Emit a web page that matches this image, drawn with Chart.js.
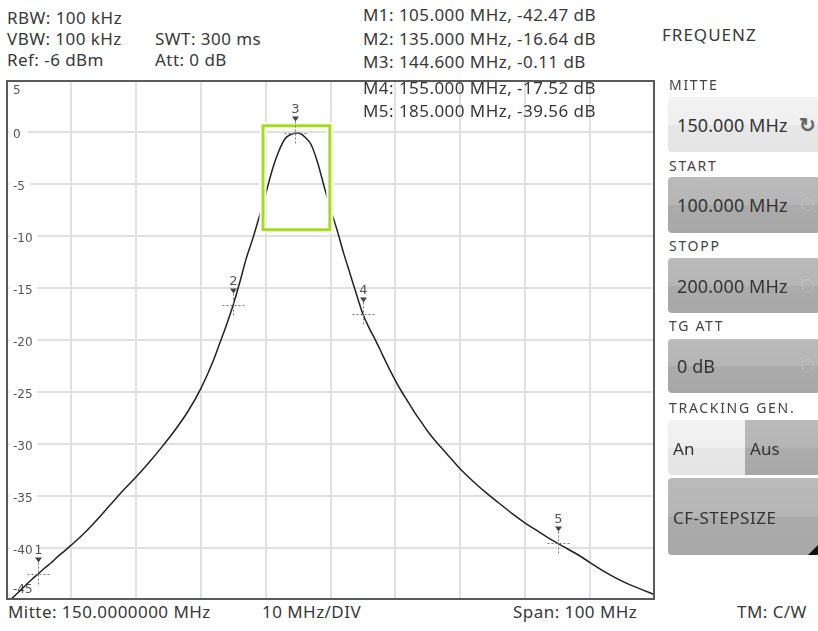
<!DOCTYPE html>
<html><head><meta charset="utf-8">
<script src="https://cdn.jsdelivr.net/npm/chart.js@4.4.1/dist/chart.umd.min.js"></script>
<style>
html,body{margin:0;padding:0;background:#fff;}
body{width:818px;height:631px;position:relative;overflow:hidden;font-family:"Noto Sans",sans-serif;color:#383838;}
.t{position:absolute;white-space:nowrap;font-size:17px;line-height:20px;letter-spacing:0.45px;}
.lbl{position:absolute;left:669px;white-space:nowrap;font-size:14px;line-height:16px;letter-spacing:1.7px;color:#444;}
.btn{position:absolute;left:668px;width:152px;border-radius:4px;overflow:hidden;}
.light{background:linear-gradient(#f2f2f2 0%,#efefef 50%,#e7e7e7 51%,#e5e5e5 100%);}
.dark{background:linear-gradient(#bababa 0%,#b5b5b5 50%,#ababab 51%,#a8a8a8 100%);}
.btxt{position:absolute;left:9px;top:50%;transform:translateY(-50%);white-space:nowrap;font-size:18px;letter-spacing:0.1px;color:#333;}
.ico{position:absolute;left:133px;top:50%;margin-top:-7px;width:11px;height:11px;border:1.5px dotted #cfcfcf;border-radius:50%;}
#chartWrap{position:absolute;left:6px;top:80px;width:649px;height:520px;}
</style>
</head><body>
<div class="t" style="left:7px;top:8px;">RBW: 100 kHz</div>
<div class="t" style="left:7px;top:29px;">VBW: 100 kHz</div>
<div class="t" style="left:7px;top:50px;">Ref: -6 dBm</div>
<div class="t" style="left:155px;top:29px;">SWT: 300 ms</div>
<div class="t" style="left:155px;top:50px;">Att: 0 dB</div>
<div class="t" style="left:363px;top:5px;">M1: 105.000 MHz, -42.47 dB</div>
<div class="t" style="left:363px;top:29px;">M2: 135.000 MHz, -16.64 dB</div>
<div class="t" style="left:363px;top:52px;">M3: 144.600 MHz, -0.11 dB</div>

<div id="chartWrap"><canvas id="c"></canvas></div>

<div class="t" style="left:363px;top:78px;">M4: 155.000 MHz, -17.52 dB</div>
<div class="t" style="left:363px;top:101px;">M5: 185.000 MHz, -39.56 dB</div>

<div class="t" style="left:662px;top:25px;letter-spacing:1px;">FREQUENZ</div>
<div class="lbl" style="top:77px;">MITTE</div>
<div class="btn light" style="top:97px;height:55px;"><div class="btxt">150.000 MHz</div><div style="position:absolute;left:131px;top:50%;transform:translateY(-52%);font-size:20px;font-weight:bold;color:#666;">&#8635;</div></div>
<div class="lbl" style="top:158px;">START</div>
<div class="btn dark" style="top:177px;height:56px;"><div class="btxt">100.000 MHz</div><div class="ico"></div></div>
<div class="lbl" style="top:238px;">STOPP</div>
<div class="btn dark" style="top:258px;height:55px;"><div class="btxt">200.000 MHz</div><div class="ico"></div></div>
<div class="lbl" style="top:318px;">TG ATT</div>
<div class="btn dark" style="top:339px;height:54px;"><div class="btxt">0 dB</div><div class="ico"></div></div>
<div class="lbl" style="top:400px;">TRACKING GEN.</div>
<div class="btn" style="top:420px;height:55px;">
  <div class="light" style="position:absolute;left:0;top:0;width:77px;height:100%;"><div class="btxt" style="left:5px;font-size:17px;">An</div></div>
  <div class="dark" style="position:absolute;left:77px;top:0;width:80px;height:100%;"><div class="btxt" style="left:5px;font-size:17px;">Aus</div></div>
</div>
<div class="btn dark" style="top:478px;height:77px;"><div class="btxt" style="left:5px;font-size:17px;letter-spacing:0.5px;">CF-STEPSIZE</div>
  <div style="position:absolute;left:140px;bottom:0;width:0;height:0;border-left:10px solid transparent;border-bottom:10px solid #111;"></div></div>

<div class="t" style="left:8px;top:602px;">Mitte: 150.0000000 MHz</div>
<div class="t" style="left:262px;top:602px;">10 MHz/DIV</div>
<div class="t" style="left:513px;top:602px;">Span: 100 MHz</div>
<div class="t" style="left:737px;top:602px;">TM: C/W</div>

<script>
// ---- data ----
const freqMHz = [100,101,102,103,104,105,106,107,108,109,110,112,114,116,118,120,122,124,126,128,130,132,133,134,135,136,137,138,139,140,141,142,143,144,144.6,145,145.5,146,147,148,149,150,151,152,153,154,155,156,157,158,159,160,161,162,163,164,165,166,167,168,169,170,172,174,176,178,180,182,184,185,186,188,190,192,194,196,198,200];
const levelDb = [-45.3,-44.8,-44.2,-43.6,-43.0,-42.47,-41.9,-41.4,-40.8,-40.3,-39.75,-38.6,-37.3,-35.9,-34.5,-33.2,-31.8,-30.3,-28.7,-26.9,-24.7,-21.9,-20.2,-18.5,-16.64,-14.5,-12.2,-10.3,-8.2,-6.0,-3.7,-1.9,-0.65,-0.2,-0.11,-0.12,-0.2,-0.45,-1.2,-2.9,-5.2,-7.4,-9.4,-11.6,-13.6,-15.6,-17.52,-18.9,-20.1,-21.4,-22.7,-23.9,-25.0,-26.0,-27.0,-27.9,-28.8,-29.6,-30.3,-31.0,-31.7,-32.4,-33.6,-34.7,-35.7,-36.7,-37.6,-38.4,-39.2,-39.56,-39.9,-40.6,-41.4,-42.2,-42.9,-43.5,-44.0,-44.5];
const yTickLabels = [5,0,-5,-10,-15,-20,-25,-30,-35,-40,-45];
const markerLabels = ['1','2','3','4','5'];
const markerFreq = [105,135,144.6,155,185];
const markerDb = [-42.47,-16.64,-0.11,-17.52,-39.56];
const zoomBox = {fMin:139.6, fMax:149.9, dbTop:0.6, dbBottom:-9.4};

const deco = {
  id:'deco',
  beforeDatasetsDraw(chart){
    const {ctx, chartArea:a, scales:{y}} = chart;
    ctx.save();
    ctx.font = '12px "DejaVu Sans", sans-serif';
    ctx.textBaseline = 'middle';
    ctx.textAlign = 'left';
    yTickLabels.forEach(v=>{
      let py = y.getPixelForValue(v) + 3;
      py = Math.min(Math.max(py, a.top + 11), a.bottom - 10);
      const s = String(v);
      const w = ctx.measureText(s).width;
      ctx.fillStyle = '#fff';
      ctx.fillRect(a.left + 3, py - 7, Math.max(w, 10) + 9, 14);
      ctx.fillStyle = '#555';
      ctx.fillText(s, a.left + 7, py);
    });
    ctx.restore();
  },
  afterDatasetsDraw(chart){
    const {ctx, chartArea:a, scales:{x,y}} = chart;
    ctx.save();
    // zoom box
    const bx1 = x.getPixelForValue(zoomBox.fMin), bx2 = x.getPixelForValue(zoomBox.fMax);
    const by1 = y.getPixelForValue(zoomBox.dbTop), by2 = y.getPixelForValue(zoomBox.dbBottom);
    ctx.strokeStyle = '#ffffff'; ctx.lineWidth = 7;
    ctx.strokeRect(bx1, by1, bx2-bx1, by2-by1);
    ctx.strokeStyle = '#a5dc1e'; ctx.lineWidth = 3;
    ctx.strokeRect(bx1, by1, bx2-bx1, by2-by1);
    // markers
    markerFreq.forEach((f,i)=>{
      const px = Math.round(x.getPixelForValue(f)) + 0.5;
      const py = Math.round(y.getPixelForValue(markerDb[i])) + 0.5;
      ctx.strokeStyle = '#7a7a7a'; ctx.lineWidth = 1; ctx.setLineDash([2,2]);
      ctx.beginPath(); ctx.moveTo(px, py-12); ctx.lineTo(px, py+10);
      ctx.moveTo(px-11, py); ctx.lineTo(px+11, py); ctx.stroke();
      ctx.setLineDash([]);
      ctx.fillStyle = '#444';
      ctx.beginPath(); ctx.moveTo(px-3.5, py-17); ctx.lineTo(px+3.5, py-17); ctx.lineTo(px, py-12); ctx.closePath(); ctx.fill();
      ctx.font = '13px "DejaVu Sans", sans-serif';
      ctx.textAlign = 'center'; ctx.textBaseline = 'middle';
      ctx.fillStyle = '#555';
      ctx.fillText(markerLabels[i], px, py-24);
    });
    // frame
    ctx.strokeStyle = '#5a5a5a'; ctx.lineWidth = 2;
    ctx.strokeRect(a.left+1, a.top+1, a.right-a.left-2, a.bottom-a.top-2);
    ctx.restore();
  }
};

new Chart(document.getElementById('c'), {
  type:'line',
  data:{datasets:[{data: freqMHz.map((f,i)=>({x:f, y:levelDb[i]})), borderColor:'#222', borderWidth:1.5, pointRadius:0, cubicInterpolationMode:'monotone', fill:false}]},
  options:{
    responsive:true, maintainAspectRatio:false, animation:false,
    layout:{padding:0},
    plugins:{legend:{display:false}, tooltip:{enabled:false}},
    scales:{
      x:{type:'linear', min:100, max:200, ticks:{display:false, stepSize:10}, grid:{color:'#e0e0e0', lineWidth:2, drawTicks:false}, border:{display:false}},
      y:{min:-45, max:5, ticks:{display:false, stepSize:5}, grid:{color:'#e0e0e0', lineWidth:2, drawTicks:false}, border:{display:false}}
    }
  },
  plugins:[deco]
});
</script>
</body></html>
